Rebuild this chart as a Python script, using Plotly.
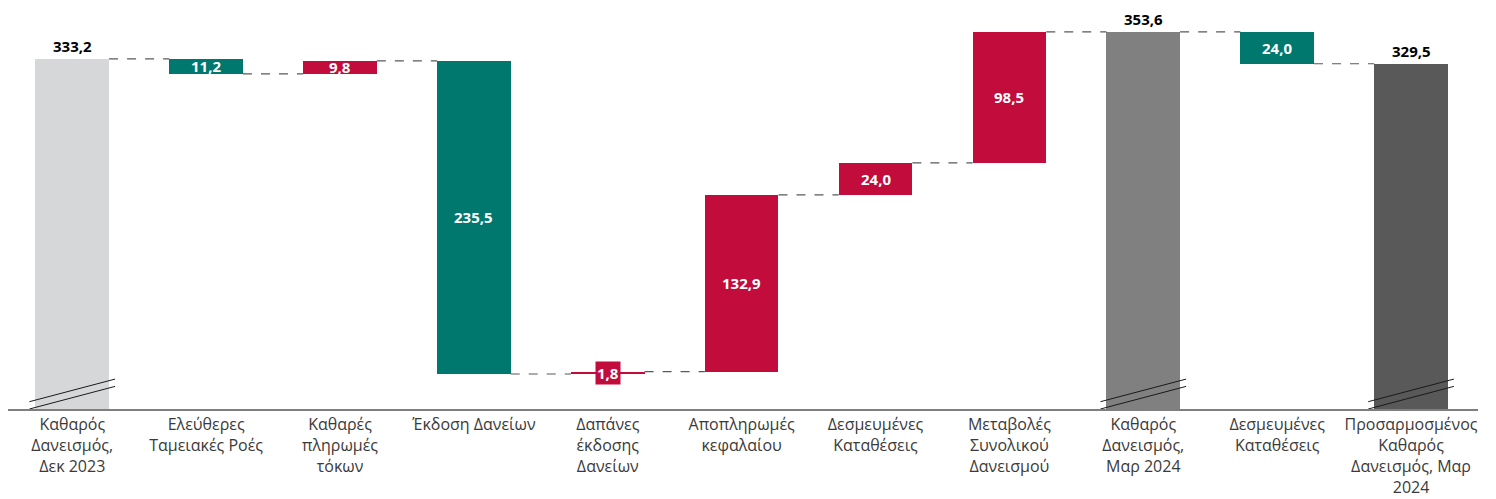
import plotly.graph_objects as go

categories = [
    "Καθαρός<br>Δανεισμός,<br>Δεκ 2023",
    "Ελεύθερες<br>Ταμειακές Ροές",
    "Καθαρές<br>πληρωμές<br>τόκων",
    "Έκδοση Δανείων",
    "Δαπάνες<br>έκδοσης<br>Δανείων",
    "Αποπληρωμές<br>κεφαλαίου",
    "Δεσμευμένες<br>Καταθέσεις",
    "Μεταβολές<br>Συνολικού<br>Δανεισμού",
    "Καθαρός<br>Δανεισμός,<br>Μαρ 2024",
    "Δεσμευμένες<br>Καταθέσεις",
    "Προσαρμοσμένος<br>Καθαρός<br>Δανεισμός, Μαρ<br>2024",
]
values = [333.2, -11.2, 9.8, -235.5, 1.8, 132.9, 24.0, 98.5, 353.6, -24.0, 329.5]
measures = ["absolute", "relative", "relative", "relative", "relative", "relative",
            "relative", "relative", "total", "relative", "total"]

# styling
RED = "#C20C3C"
TEAL = "#00786D"
TOTAL_COLORS = {0: "#D6D7D9", 8: "#808080", 10: "#595959"}
Y_MIN, Y_MAX = 70, 370
BAR_W = 0.55
FONT = "Open Sans"


def fmt(v):
    return f"{abs(v):.1f}".replace(".", ",")


x = list(range(len(categories)))
bases, heights, colors, levels = [], [], [], []
running = 0.0
for i, (v, m) in enumerate(zip(values, measures)):
    if m in ("absolute", "total"):
        bases.append(0)
        heights.append(v)
        colors.append(TOTAL_COLORS.get(i, "#808080"))
        running = v
    else:
        start, end = running, running + v
        bases.append(min(start, end))
        heights.append(abs(v))
        colors.append(RED if v > 0 else TEAL)
        running = end
    levels.append(running)

fig = go.Figure()
fig.add_trace(go.Bar(
    x=x, y=heights, base=bases, width=BAR_W,
    marker=dict(color=colors, line=dict(width=0)),
    hoverinfo="skip", showlegend=False,
))

shapes = []
annotations = []
hw = BAR_W / 2
for i in range(len(values) - 1):
    shapes.append(dict(
        type="line", xref="x", yref="y",
        x0=i + hw, x1=i + 1 - hw, y0=levels[i], y1=levels[i],
        line=dict(color="#595959", width=1.2, dash="dash"),
    ))

for i, (v, m) in enumerate(zip(values, measures)):
    if m in ("absolute", "total"):
        annotations.append(dict(
            x=i, y=v, xref="x", yref="y", text=f"<b>{fmt(v)}</b>",
            showarrow=False, yanchor="bottom", yshift=1,
            font=dict(family=FONT, size=15, color="#000000"),
        ))
        # axis break marks
        for off in (0.0, 5.5):
            shapes.append(dict(
                type="line", xref="x", yref="y",
                x0=i - 0.32, x1=i + 0.32,
                y0=Y_MIN + off, y1=Y_MIN + off + 17,
                line=dict(color="#1a1a1a", width=1),
            ))
    else:
        mid = bases[i] + heights[i] / 2
        small = heights[i] < 8
        annotations.append(dict(
            x=i, y=mid, xref="x", yref="y", text=f"<b>{fmt(v)}</b>",
            showarrow=False, yanchor="middle",
            font=dict(family=FONT, size=15, color="#FFFFFF"),
            bgcolor=colors[i] if small else None,
            borderpad=1,
        ))

fig.update_layout(
    width=1480, height=491,
    margin=dict(l=0, r=10, t=2, b=90),
    paper_bgcolor="white", plot_bgcolor="white",
    bargap=0,
    shapes=shapes, annotations=annotations,
    xaxis=dict(
        tickmode="array", tickvals=x, ticktext=categories,
        range=[-0.48, len(categories) - 0.5],
        showline=True, linecolor="#7F7F7F", linewidth=2,
        showgrid=False, zeroline=False, ticks="",
        tickfont=dict(family=FONT, size=16, color="#3A3A3A"),
    ),
    yaxis=dict(range=[Y_MIN, Y_MAX], visible=False, showgrid=False, zeroline=False),
    font=dict(family=FONT),
)

fig.write_html("out.html")
